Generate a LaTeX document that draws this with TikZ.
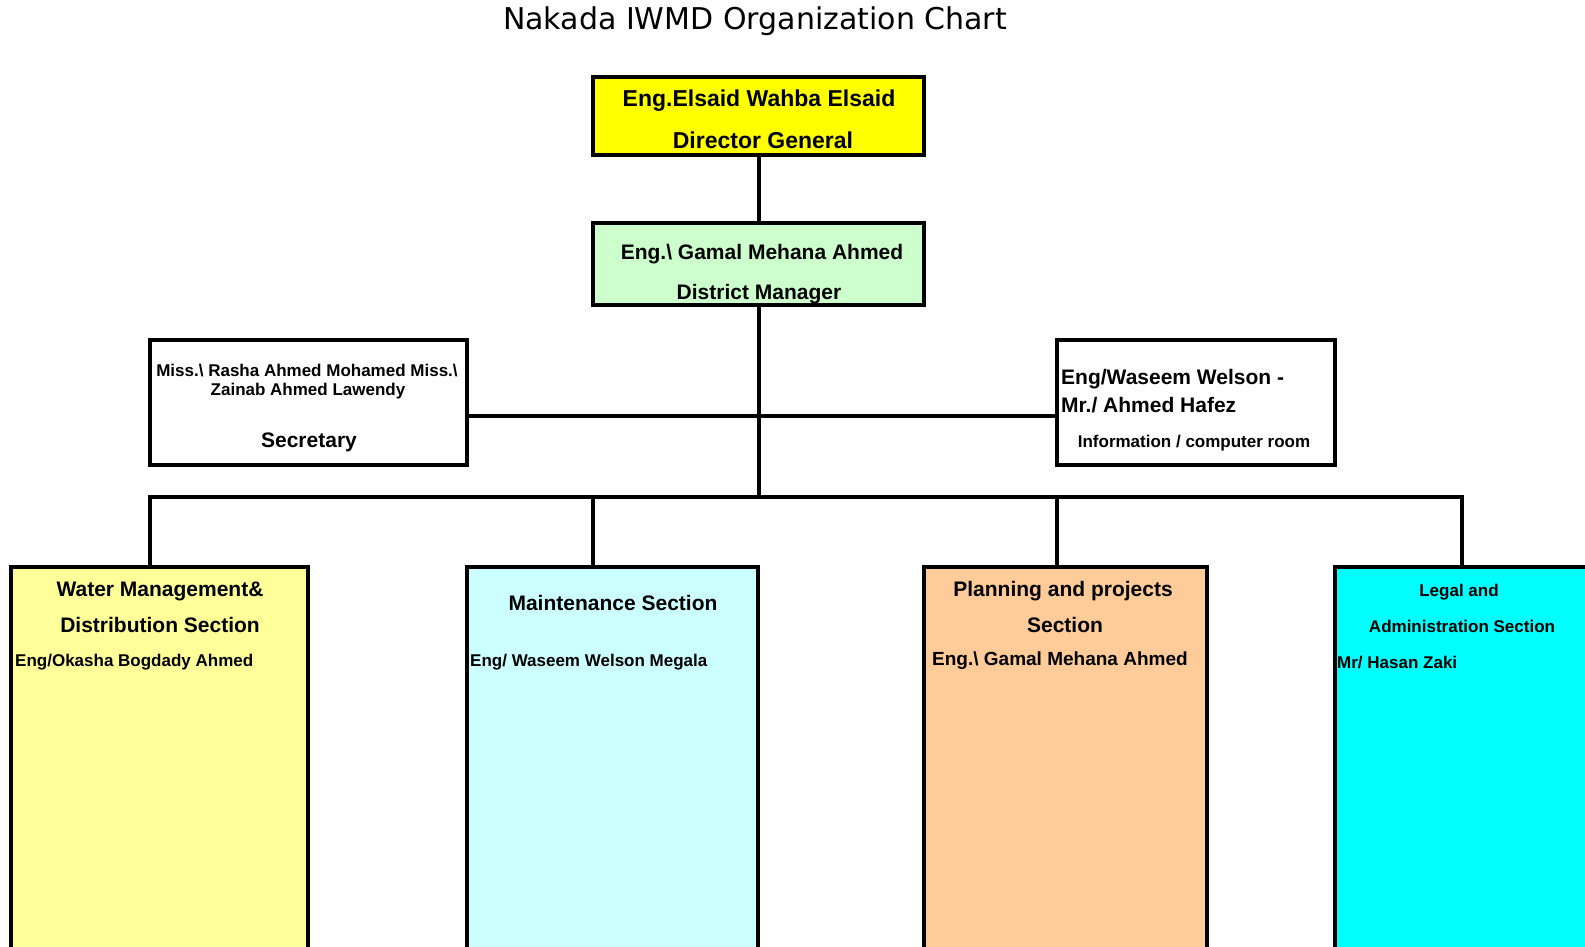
\documentclass[tikz,border=0pt]{standalone}
\usepackage{fontspec}
\setmainfont{Liberation Sans}
\newfontfamily\titlefont{DejaVu Sans}
\usetikzlibrary{positioning}

\definecolor{dgyellow}{HTML}{FFFF00}
\definecolor{dmgreen}{HTML}{CCFFCC}
\definecolor{wmyellow}{HTML}{FFFF99}
\definecolor{mtcyan}{HTML}{CCFFFF}
\definecolor{pporange}{HTML}{FFCC99}
\definecolor{lacyan}{HTML}{00FFFF}

\tikzset{
  box/.style={draw, line width=3.5pt, anchor=north west, outer sep=0pt, inner sep=0pt},
  big/.style={inner sep=0pt, font=\fontsize{21}{25}\selectfont\bfseries},
  small/.style={inner sep=0pt, font=\fontsize{17}{20}\selectfont\bfseries},
  link/.style={line width=3.5pt}
}

\begin{document}
\begin{tikzpicture}[x=1pt, y=-1pt]
                    \useasboundingbox (0,0) rectangle (1585,946);
                    \node [inner sep=0pt, font=\titlefont\fontsize{30}{34}\selectfont] (title) at (755,21) {Nakada IWMD Organization Chart};
                    % top of the chart
                    \node [box, fill=dgyellow, minimum width=331pt, minimum height=78pt] (dg) at (593,77) {};
                    \node [box, fill=dmgreen, minimum width=331pt, minimum height=82pt] (dm) at (593,223) {};
                    \node [box, fill=white, minimum width=317pt, minimum height=125pt] (sec) at (150,340) {};
                    \node [box, fill=white, minimum width=278pt, minimum height=125pt] (info) at (1057,340) {};
                    % sections
                    \node [box, fill=wmyellow, minimum width=297pt, minimum height=400pt] (wm) at (11,567) {};
                    \node [box, fill=mtcyan, minimum width=291pt, minimum height=400pt] (mt) at (467,567) {};
                    \node [box, fill=pporange, minimum width=283pt, minimum height=400pt] (pp) at (924,567) {};
                    \node [box, fill=lacyan, minimum width=300pt, minimum height=400pt] (la) at (1335,567) {};
                    % texts
                    \node [big, font=\fontsize{23}{27}\selectfont\bfseries] (dgname) at (759,101) {Eng.Elsaid Wahba Elsaid};
                    \node [big, font=\fontsize{23}{27}\selectfont\bfseries] (dgrole) at (763,140) {Director General};
                    \node [big] (dmname) at (762,254) {Eng.\textbackslash\ Gamal Mehana Ahmed};
                    \node [big] (dmrole) at (759,294) {District Manager};
                    \node [small] (secname) at (307,370) {Miss.\textbackslash\ Rasha Ahmed Mohamed Miss.\textbackslash};
                    \node [small] (secname2) at (308,391) {Zainab Ahmed Lawendy};
                    \node [big] (secrole) at (309,442) {Secretary};
                    \node [big, anchor=west] (infoname) at (1061,379) {Eng/Waseem Welson -};
                    \node [big, anchor=west] (infoname2) at (1061,405) {Mr./ Ahmed Hafez};
                    \node [small] (inforole) at (1194,443) {Information / computer room};
                    \node [big] (wmrole) at (160,591) {Water Management\&};
                    \node [big] (wmrole2) at (160,625) {Distribution Section};
                    \node [small, anchor=west] (wmname) at (15,662) {Eng/Okasha Bogdady Ahmed};
                    \node [big] (mtrole) at (613,603) {Maintenance Section};
                    \node [small, anchor=west] (mtname) at (470,662) {Eng/ Waseem Welson Megala};
                    \node [big] (pprole) at (1063,591) {Planning and projects};
                    \node [big] (pprole2) at (1065,625) {Section};
                    \node [big, font=\fontsize{19}{23}\selectfont\bfseries, anchor=west] (ppname) at (932,661) {Eng.\textbackslash\ Gamal Mehana Ahmed};
                    \node [small] (larole) at (1459,592) {Legal and};
                    \node [small] (larole2) at (1462,626) {Administration Section};
                    \node [small, anchor=west] (laname) at (1337,662) {Mr/ Hasan Zaki};
                    % connectors
                    \coordinate (b1) at (150,497);
                    \coordinate (b2) at (593,497);
                    \coordinate (b3) at (1057,497);
                    \coordinate (b4) at (1462,497);
                    \draw [link] (dg.south -| 759,0) -- (dm.north -| 759,0);
                    \draw [link] (dm.south -| 759,0) -- (b1 -| 759,0);
                    \draw [link] (sec.east |- 0,416) -- (info.west |- 0,416);
                    \draw [link, line cap=rect] (b1) -- (b4);
                    \draw [link] (b1) -- (b1 |- wm.north);
                    \draw [link] (b2) -- (b2 |- mt.north);
                    \draw [link] (b3) -- (b3 |- pp.north);
                    \draw [link] (b4) -- (b4 |- la.north);
                \end{tikzpicture}
\end{document}
